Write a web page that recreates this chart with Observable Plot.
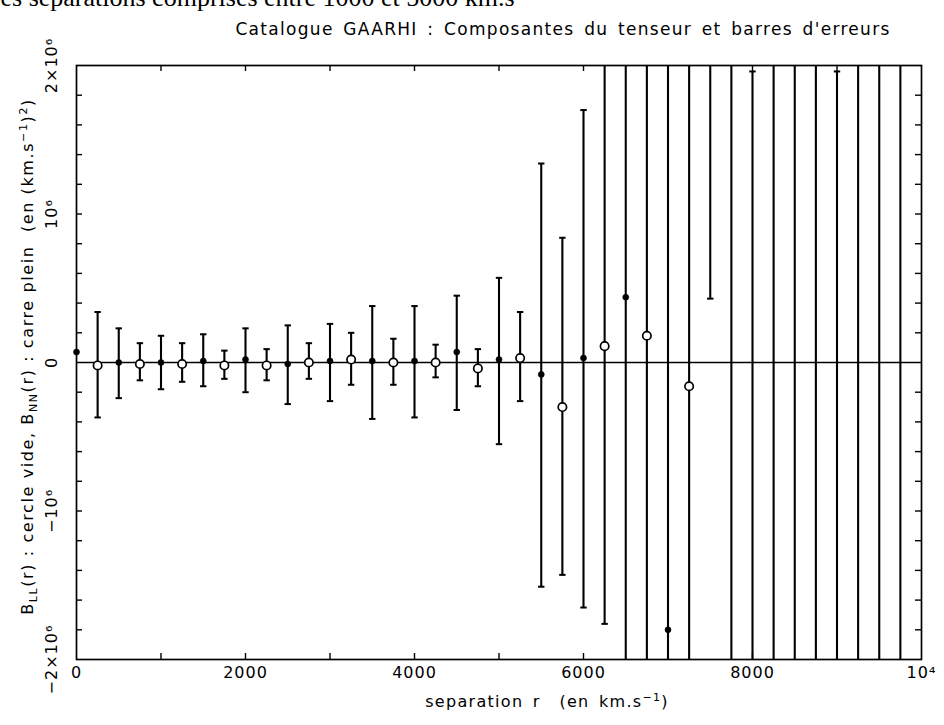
<!DOCTYPE html>
<html><head><meta charset="utf-8">
<script src="https://cdn.jsdelivr.net/npm/d3@7"></script>
<script src="https://cdn.jsdelivr.net/npm/@observablehq/plot@0.6"></script>
<style>
html,body{margin:0;padding:0;background:#fff;overflow:hidden}
#chart{width:944px;height:725px}
svg text{white-space:pre}
</style></head><body><div id="chart"></div>
<script>
// ---- data (values in units of 10^6 (km/s)^2) ----
const separations = [0,250,500,750,1000,1250,1500,1750,2000,2250,2500,2750,3000,3250,3500,3750,4000,4250,4500,4750,5000,5250,5500,5750,6000,6250,6500,6750,7000,7250,7500,7750,8000,8250,8500,8750,9000,9250,9500,9750];
const kinds = ["NN","LL","NN","LL","NN","LL","NN","LL","NN","LL","NN","LL","NN","LL","NN","LL","NN","LL","NN","LL","NN","LL","NN","LL","NN","LL","NN","LL","NN","LL","NN","LL","NN","LL","NN","LL","NN","LL","NN","LL"];
const values = [0.07,-0.02,0.00,-0.01,0.00,-0.01,0.01,-0.02,0.02,-0.02,-0.01,0.00,0.01,0.02,0.01,0.00,0.01,0.00,0.07,-0.04,0.02,0.03,-0.08,-0.30,0.03,0.11,0.44,0.18,-1.80,-0.16,2.8,-2.6,-2.5,2.6,-2.7,2.8,-2.6,2.7,-2.8,2.9];
const lowers = [null,-0.37,-0.24,-0.12,-0.18,-0.13,-0.16,-0.11,-0.20,-0.12,-0.28,-0.11,-0.26,-0.15,-0.38,-0.15,-0.37,-0.10,-0.32,-0.16,-0.55,-0.26,-1.51,-1.43,-1.65,-1.76,-2.6,-3.0,-5.5,-3.8,0.43,-6.0,-7.0,-2.4,-8.0,-2.5,-7.0,-2.8,-9.0,-3.0];
const uppers = [null,0.34,0.23,0.13,0.18,0.13,0.19,0.08,0.23,0.09,0.25,0.13,0.26,0.20,0.38,0.16,0.38,0.12,0.45,0.09,0.57,0.34,1.34,0.84,1.70,2.6,3.0,3.2,2.5,3.5,5.2,2.6,1.96,7.0,2.6,8.0,1.96,8.0,2.5,9.0];
const unit = 1e6;

const xTickValues = [0,2000,4000,6000,8000,10000];
const xTickLabels = ["0","2000","4000","6000","8000","10⁴"];
const xMinorTicks = [1000,2000,3000,4000,5000,6000,7000,8000,9000];
const yTickValues = [-2e6,-1e6,0,1e6,2e6];
const yTickLabels = ["−2×10⁶","−10⁶","0","10⁶","2×10⁶"];
const yMinorTicks = [-1.8e6,-1.6e6,-1.4e6,-1.2e6,-1e6,-0.8e6,-0.6e6,-0.4e6,-0.2e6,0.2e6,0.4e6,0.6e6,0.8e6,1e6,1.2e6,1.4e6,1.6e6,1.8e6];

const headerText = "es séparations comprises entre 1000 et 5000 km.s";
const titleText = "Catalogue GAARHI : Composantes du tenseur et barres d'erreurs";
const xTitle = "separation r  (en km.s-1)";
const yTitle = "B_LL(r) : cercle vide, B_NN(r) : carre plein  (en (km.s-1)2)";

// ---- build table ----
const rows = separations.map((r, i) => ({
  r, kind: kinds[i], v: values[i] * unit,
  lo: lowers[i] == null ? null : lowers[i] * unit,
  hi: uppers[i] == null ? null : uppers[i] * unit
}));
const bars = rows.filter(d => d.lo != null);
const inside = d => Math.abs(d.v) <= 2e6;

const capSymbol = {
  draw(ctx, size) {
    const w = Math.sqrt(size / Math.PI);
    ctx.moveTo(-w, 0); ctx.lineTo(w, 0);
  }
};

const W = 944 - 76 - 23, H = 725 - 65 - 66;
const font = "DejaVu Sans, sans-serif";

const chart = Plot.plot({
  width: 944, height: 725,
  marginLeft: 76, marginRight: 23, marginTop: 65, marginBottom: 66,
  x: {domain: [0, 10000], axis: null},
  y: {domain: [-2e6, 2e6], axis: null},
  style: {fontFamily: font, color: "black", background: "white", overflow: "visible"},
  marks: [
    Plot.ruleY([0], {stroke: "black", strokeWidth: 1.4}),
    // inward ticks
    Plot.tickX(xMinorTicks, {x: d => d, insetTop: H - 6, stroke: "black", strokeWidth: 1.4}),
    Plot.tickX(xMinorTicks, {x: d => d, insetBottom: H - 6, stroke: "black", strokeWidth: 1.4}),
    Plot.tickY(yMinorTicks, {y: d => d, insetRight: W - 6, stroke: "black", strokeWidth: 1.4}),
    Plot.tickY(yMinorTicks, {y: d => d, insetLeft: W - 6, stroke: "black", strokeWidth: 1.4}),
    // error bars
    Plot.ruleX(bars, {x: "r", y1: "lo", y2: "hi", stroke: "black", strokeWidth: 2.1, clip: true}),
    Plot.dot(bars, {x: "r", y: "hi", symbol: capSymbol, r: 3.2, stroke: "black", fill: "none", strokeWidth: 2, clip: true}),
    Plot.dot(bars, {x: "r", y: "lo", symbol: capSymbol, r: 3.2, stroke: "black", fill: "none", strokeWidth: 2, clip: true}),
    // points
    Plot.dot(rows.filter(d => d.kind === "LL" && inside(d)), {x: "r", y: "v", r: 4.2, stroke: "black", fill: "white", strokeWidth: 1.7}),
    Plot.dot(rows.filter(d => d.kind === "NN" && inside(d)), {x: "r", y: "v", r: 3, fill: "black", stroke: "black", strokeWidth: 0.6}),
    Plot.frame({stroke: "black", strokeWidth: 1.7}),
    // tick labels
    Plot.text(xTickValues, {x: d => d, text: (d, i) => xTickLabels[i], frameAnchor: "bottom", dy: 18, fontSize: 16, className: "spaced"}),
    Plot.text(yTickValues, {y: d => d, text: (d, i) => yTickLabels[i], frameAnchor: "left", dx: -25, rotate: -90, textAnchor: "middle", fontSize: 16, className: "spaced"}),
    // titles
    Plot.text([titleText], {text: d => d, frameAnchor: "top", dy: -43, dx: 64, textAnchor: "middle", fontSize: 17, className: "wide"}),
    Plot.text([xTitle], {text: d => d, frameAnchor: "bottom", dy: 47, dx: 48, textAnchor: "middle", fontSize: 16, className: "wide"}),
    Plot.text([yTitle], {text: d => d, frameAnchor: "left", dx: -49, dy: -6, rotate: -90, textAnchor: "middle", fontSize: 16, className: "ytitle"}),
    Plot.text([headerText], {text: d => d, frameAnchor: "top-left", dx: -76, dy: -60, textAnchor: "start", lineAnchor: "bottom", fontSize: 26, fontFamily: "Liberation Serif, DejaVu Serif, serif"})
  ]
});
document.getElementById("chart").append(chart);

d3.select(chart).selectAll("g.spaced").style("letter-spacing", "1px");
d3.select(chart).selectAll("g.wide").style("letter-spacing", "1.3px").style("word-spacing", "3px");
d3.select(chart).selectAll("g.ytitle").style("letter-spacing", "1.6px");

// rich text (sub/superscripts)
function rich(el, parts) {
  const sel = d3.select(el);
  sel.text(null);
  let cur = 0;
  for (const [t, shift] of parts) {
    const s = shift || 0;
    const ts = sel.append("tspan").text(t);
    if (s !== cur) ts.attr("dy", (s - cur) + "px");
    if (s) ts.attr("font-size", "11px");
    cur = s;
  }
}
d3.select(chart).selectAll("text").each(function () {
  const t = this.textContent;
  if (t === yTitle) {
    rich(this, [["B"], ["LL", 4], ["(r) : cercle vide, B"], ["NN", 4], ["(r) : carre plein  (en (km.s"], ["−1", -6], [")"], ["2", -6], [")"]]);
  } else if (t === xTitle) {
    rich(this, [["separation r  (en km.s"], ["−1", -6], [")"]]);
  }
});
</script>
</body></html>
